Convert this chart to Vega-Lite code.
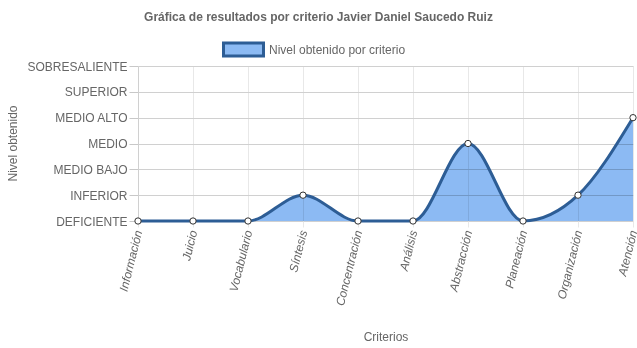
{
  "$schema": "https://vega.github.io/schema/vega-lite/v6.json",
  "autosize": "none",
  "width": 495,
  "height": 155,
  "padding": {"left": 138, "top": 66, "right": 4, "bottom": 127},
  "background": "white",
  "title": {
    "text": "Gráfica de resultados por criterio Javier Daniel Saucedo Ruiz",
    "font": "Liberation Sans",
    "fontSize": 12,
    "fontWeight": "bold",
    "color": "#666666",
    "anchor": "middle",
    "dx": -67,
    "offset": 4
  },
  "data": {
    "values": [
      {"criterio": "Información", "nivel": 0, "serie": "Nivel obtenido por criterio"},
      {"criterio": "Juicio", "nivel": 0, "serie": "Nivel obtenido por criterio"},
      {"criterio": "Vocabulario", "nivel": 0, "serie": "Nivel obtenido por criterio"},
      {"criterio": "Síntesis", "nivel": 1, "serie": "Nivel obtenido por criterio"},
      {"criterio": "Concentración", "nivel": 0, "serie": "Nivel obtenido por criterio"},
      {"criterio": "Análisis", "nivel": 0, "serie": "Nivel obtenido por criterio"},
      {"criterio": "Abstracción", "nivel": 3, "serie": "Nivel obtenido por criterio"},
      {"criterio": "Planeación", "nivel": 0, "serie": "Nivel obtenido por criterio"},
      {"criterio": "Organización", "nivel": 1, "serie": "Nivel obtenido por criterio"},
      {"criterio": "Atención", "nivel": 4, "serie": "Nivel obtenido por criterio"}
    ]
  },
  "config": {
    "view": {"stroke": null},
    "font": "Liberation Sans"
  },
  "encoding": {
    "x": {
      "field": "criterio",
      "type": "nominal",
      "sort": null,
      "scale": {"type": "point", "padding": 0},
      "axis": {
        "title": "Criterios",
        "titleFont": "Liberation Sans",
        "titleFontSize": 12,
        "titleFontWeight": "normal",
        "titleColor": "#666666",
        "titleBaseline": "middle",
        "titleY": 115,
        "labelAngle": -76,
        "labelFont": "Liberation Sans",
        "labelFontSize": 12,
        "labelFontStyle": "italic",
        "labelColor": "#666666",
        "labelPadding": 3,
        "grid": true,
        "gridColor": "#e8e8e8",
        "gridWidth": 1,
        "domain": false,
        "ticks": true,
        "tickColor": "#e8e8e8",
        "tickSize": 6
      }
    },
    "y": {
      "field": "nivel",
      "type": "quantitative",
      "scale": {"domain": [0, 6], "nice": false, "zero": true},
      "axis": {
        "title": "Nivel obtenido",
        "titleFont": "Liberation Sans",
        "titleFontSize": 12,
        "titleFontWeight": "normal",
        "titleColor": "#666666",
        "titleX": -126,
        "titleY": 77,
        "titleAngle": -90,
        "titleBaseline": "middle",
        "titleAlign": "center",
        "values": [0, 1, 2, 3, 4, 5, 6],
        "labelExpr": "['DEFICIENTE','INFERIOR','MEDIO BAJO','MEDIO','MEDIO ALTO','SUPERIOR','SOBRESALIENTE'][datum.value]",
        "labelFont": "Liberation Sans",
        "labelFontSize": 12,
        "labelColor": "#666666",
        "labelPadding": 2,
        "grid": true,
        "gridColor": "#d0d0d0",
        "gridWidth": 1,
        "domain": true,
        "domainColor": "#d0d0d0",
        "ticks": true,
        "tickColor": "#c8c8c8",
        "tickSize": 9
      }
    }
  },
  "layer": [
    {
      "mark": {"type": "area", "interpolate": "monotone", "opacity": 1, "blend": "multiply"},
      "encoding": {
        "color": {
          "field": "serie",
          "type": "nominal",
          "scale": {"range": ["#8cbaf3"]},
          "legend": {
            "title": null,
            "orient": "none",
            "legendX": 84,
            "legendY": -38,
            "symbolType": "M-1,-0.33H1V0.33H-1Z",
            "symbolSize": 1600,
            "symbolOpacity": 1,
            "symbolStrokeColor": "#2d5d95",
            "symbolStrokeWidth": 3,
            "labelFont": "Liberation Sans",
            "labelFontSize": 12,
            "labelColor": "#666666",
            "labelOffset": 4,
            "encode": {
              "symbols": {"update": {"stroke": {"value": "#2d5d95"}, "strokeWidth": {"value": 3}}}
            }
          }
        }
      }
    },
    {
      "mark": {"type": "line", "interpolate": "monotone", "color": "#2d5d95", "strokeWidth": 3}
    },
    {
      "mark": {"type": "point", "filled": true, "fill": "white", "stroke": "#333333", "strokeWidth": 1, "size": 40, "opacity": 1}
    }
  ]
}
